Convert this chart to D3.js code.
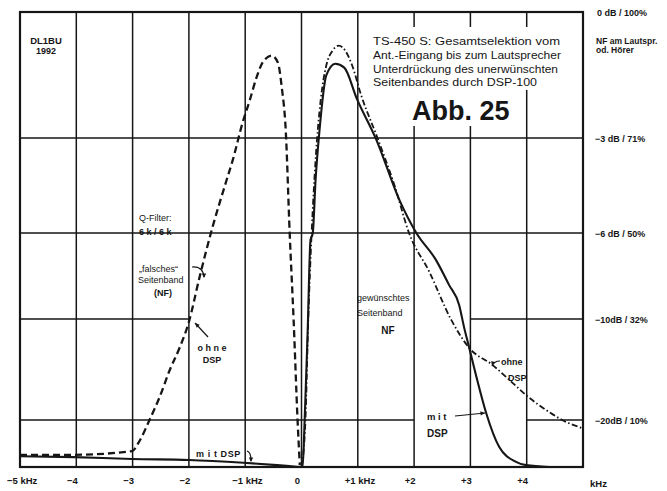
<!DOCTYPE html>
<html>
<head>
<meta charset="utf-8">
<script src="https://cdn.jsdelivr.net/npm/d3@7"></script>
<style>
  html, body { margin: 0; padding: 0; background: #fff; }
  svg { display: block; font-family: "Liberation Sans", Arial, sans-serif; }
</style>
</head>
<body>
<svg id="chart" width="667" height="491"></svg>
<script>
// frequency axis (kHz)
const xTicks = [-5, -4, -3, -2, -1, 0, 1, 2, 3, 4];
const xTickLabels = ["−5 kHz", "−4", "−3", "−2", "−1 kHz", "0", "+1 kHz", "+2", "+3", "+4"];

// level axis: percent of max, with dB labels
const levelPct = [100, 70.8, 50, 31.6, 10];
const levelLabels = ["0 dB / 100%", "−3 dB / 71%", "−6 dB / 50%", "−10dB / 32%", "−20dB / 10%"];

// ohne DSP, unwanted sideband (dashed) [kHz, %]
const ohneFalsch = [
  [-5.0, 2.6], [-4.04, 2.6], [-3.01, 3.4], [-2.87, 5.7], [-2.70, 10], [-2.52, 14.9],
  [-2.34, 20.7], [-2.16, 25.6], [-2.0, 31.0], [-1.81, 40.6], [-1.58, 51.3], [-1.33, 61.6],
  [-1.22, 66.0], [-1.05, 74.2], [-0.92, 79.5], [-0.80, 84.8], [-0.69, 88.3], [-0.53, 89.9],
  [-0.42, 88.3], [-0.35, 82.5], [-0.28, 72.6], [-0.21, 50], [-0.14, 31.4], [-0.07, 10], [-0.03, 0.4]
];

// mit DSP (solid)
const mitDsp = [
  [-5.0, 2.3], [-4.04, 2.1], [-3.01, 1.7], [-2.0, 1.5], [-1.03, 0.9], [-0.21, 0.2], [0.02, 0],
  [0.05, 7.9], [0.11, 29.2], [0.16, 48.5], [0.20, 50], [0.25, 61.6], [0.32, 72.6], [0.44, 85.3],
  [0.60, 88.0], [0.76, 87.1], [0.98, 80.0], [1.33, 70.4], [1.74, 57.2], [2.04, 50], [2.39, 44.2],
  [2.62, 38.9], [2.80, 34.6], [2.89, 29.7], [2.98, 25.4], [3.12, 18.6], [3.28, 11.5], [3.51, 4.3],
  [3.81, 1.1], [3.99, 0.4], [4.40, 0]
];

// ohne DSP, wanted sideband (dash-dot)
const ohneGewuenscht = [
  [0, 0], [0.07, 10], [0.12, 31.4], [0.18, 50], [0.25, 66.0], [0.34, 79.5], [0.44, 87.6],
  [0.55, 91.0], [0.66, 92.2], [0.78, 91.0], [0.90, 87.6], [1.06, 80.7], [1.35, 70.8],
  [1.65, 60.5], [1.91, 50], [2.27, 41.7], [2.66, 31.4], [2.98, 25.4], [3.39, 21.8],
  [3.69, 18.6], [3.99, 15.3], [4.40, 11.7], [4.63, 10], [4.98, 8.3]
];

// title block, with the printed widths of its lines
const titleLines = [
  "TS-450 S: Gesamtselektion vom",
  "Ant.-Eingang bis zum Lautsprecher",
  "Unterdrückung des unerwünschten",
  "Seitenbandes durch DSP-100"
];
const titleWidths = [187, 188, 185, 164];

const svg = d3.select("#chart");
const ink = "#161616";

const x = d3.scaleLinear().domain([-5, 5]).range([20, 583]);
// the printed level scale is nearly linear in percent
const y = d3.scaleLinear().domain([0, 10, 31.6, 50, 70.8, 100]).range([467, 420, 319, 233, 138, 12]);

const line = (x1, y1, x2, y2, stroke = 1.4) => {
  return svg.append("line")
    .attr("x1", x1).attr("y1", y1).attr("x2", x2).attr("y2", y2)
    .style("stroke", ink)
    .style("stroke-width", stroke);
};

const text = (px, py, s, size = 8, weight = "bold", anchor = "start") => {
  return svg.append("text")
    .attr("x", px).attr("y", py)
    .attr("font-size", size)
    .attr("font-weight", weight)
    .attr("text-anchor", anchor)
    .attr("fill", ink)
    .text(s);
};

// grid: vertical lines
xTicks.slice(1).forEach((t) => line(x(t), y(100), x(t), y(0), 1.5));

// grid: horizontal lines (some are only partly drawn in the original)
line(x(-5), y(70.8), x(5), y(70.8), 1.5);
line(x(-5), y(50), x(5), y(50), 1.5);
line(x(-5), y(31.6), x(-2), y(31.6), 1.5);
line(x(3), y(31.6), x(5), y(31.6), 1.5);
line(x(-5), y(10), x(2), y(10), 1.3);
line(x(4), y(10), x(5), y(10), 1.3);

// white block behind the title text
svg.append("path")
  .attr("d", "M370,27 H562 V90 H522 V126 H370 Z")
  .attr("fill", "#fff");

// frame
svg.append("rect")
  .attr("x", x(-5)).attr("y", y(100))
  .attr("width", x(5) - x(-5)).attr("height", y(0) - y(100))
  .attr("fill", "none")
  .style("stroke", ink)
  .style("stroke-width", 2.2);

// curves
const path = d3.line()
  .x((d) => x(d[0]))
  .y((d) => y(d[1]))
  .curve(d3.curveMonotoneX);

svg.append("path")
  .datum(ohneFalsch)
  .attr("d", path)
  .attr("fill", "none")
  .style("stroke", ink)
  .style("stroke-width", 2.3)
  .style("stroke-dasharray", "7,4");

svg.append("path")
  .datum(ohneGewuenscht)
  .attr("d", path)
  .attr("fill", "none")
  .style("stroke", ink)
  .style("stroke-width", 1.8)
  .style("stroke-dasharray", "6,2.5,1.5,2.5");

svg.append("path")
  .datum(mitDsp)
  .attr("d", path)
  .attr("fill", "none")
  .style("stroke", ink)
  .style("stroke-width", 2.1);

// x tick labels
xTicks.forEach((t, i) => {
  const s = xTickLabels[i];
  if (s.includes("kHz")) text(x(t) - 13, 484, s, 9.5);
  else text(x(t) - 4, 484, s, 9.5, "bold", "middle");
});
text(590, 487, "kHz", 9.5);

// level labels on the right
levelPct.forEach((p, i) => text(i === 0 ? 597 : 595, y(p) + 4, levelLabels[i], 9));
text(596, 44, "NF am Lautspr.", 8.5);
text(596, 53, "od. Hörer", 8.5);

// headings
text(46, 44, "DL1BU", 9.5, "bold", "middle");
text(46, 54, "1992", 9, "bold", "middle");

titleLines.forEach((s, i) => {
  text(373, 45 + i * 13.8, s, 11.5, "normal")
    .attr("textLength", titleWidths[i])
    .attr("lengthAdjust", "spacingAndGlyphs");
});
text(412, 120, "Abb. 25", 27, "bold");

// annotations
text(139, 221, "Q-Filter:", 9, "normal");
text(139, 235, "6 k / 6 k", 9, "bold");
text(139, 272, "„falsches“", 9, "normal");
text(138, 283, "Seitenband", 9, "normal");
text(163, 296, "(NF)", 9, "bold", "middle");
text(212, 351, "o h n e", 9, "bold", "middle");
text(212, 363, "DSP", 9, "bold", "middle");
text(196, 457, "m i t  DSP", 9, "bold").attr("letter-spacing", 0.6);
text(357, 301, "gewünschtes", 9, "normal");
text(357, 316, "Seitenband", 9, "normal");
text(388, 334, "NF", 10, "bold", "middle");
text(427, 420, "m i t", 9.5, "bold");
text(427, 437, "DSP", 10, "bold");
text(501, 365, "ohne", 9, "bold");
text(508, 381, "DSP", 9, "bold");

const arrow = (d, tip, dir) => {
  svg.append("path")
    .attr("d", d)
    .attr("fill", "none")
    .style("stroke", ink)
    .style("stroke-width", 1.2);
  const [tx, ty] = tip;
  const a = Math.atan2(dir[1], dir[0]);
  const p1 = [tx - 5 * Math.cos(a - 0.45), ty - 5 * Math.sin(a - 0.45)];
  const p2 = [tx - 5 * Math.cos(a + 0.45), ty - 5 * Math.sin(a + 0.45)];
  svg.append("path")
    .attr("d", `M${tx},${ty} L${p1[0]},${p1[1]} L${p2[0]},${p2[1]} Z`)
    .attr("fill", ink);
};

arrow("M192,267 Q203,266 204,277", [204, 278], [0, 1]);
arrow("M208,337 L195,323", [195, 323], [-1, -1]);
arrow("M247,451 Q251,452 251,461", [251, 462], [0, 1]);
arrow("M455,416 L485,413", [485, 413], [1, -0.1]);
arrow("M500,361 Q494,361 492,366", [492, 366], [-0.3, 1]);
</script>
</body>
</html>
